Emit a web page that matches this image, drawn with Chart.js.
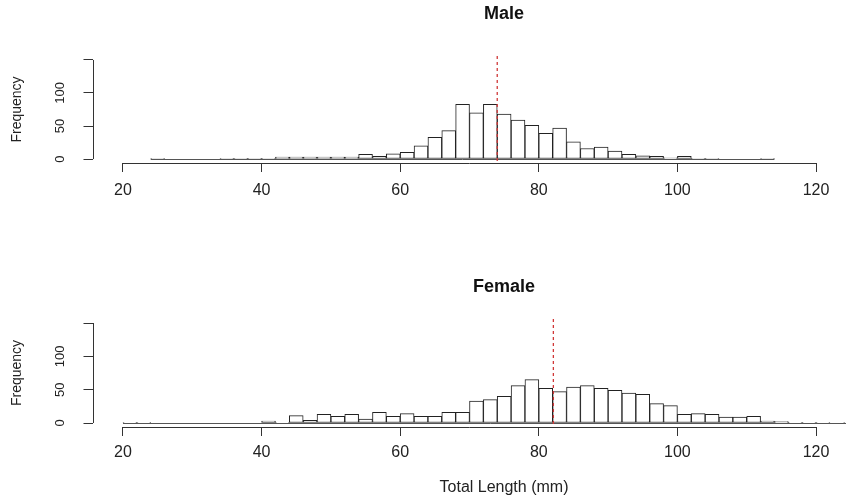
<!DOCTYPE html>
<html>
<head>
<meta charset="utf-8">
<script src="https://cdn.jsdelivr.net/npm/chart.js@4"></script>
<style>
html, body { margin: 0; padding: 0; background: #fff; overflow: hidden; }
#wrap { position: relative; width: 846px; height: 495px; overflow: hidden; }
#male { position: absolute; left: 0; top: 0; }
#female { position: absolute; left: 0; top: 260px; }
</style>
</head>
<body>
<div id="wrap">
<canvas id="male" width="1008" height="240"></canvas>
<canvas id="female" width="1008" height="240"></canvas>
</div>
<script>
// histogram bins (left edge, mm), 2 mm wide
const binWidth = 2;
const binStarts = [20, 22, 24, 26, 28, 30, 32, 34, 36, 38, 40, 42, 44, 46, 48, 50, 52, 54, 56, 58,
    60, 62, 64, 66, 68, 70, 72, 74, 76, 78, 80, 82, 84, 86, 88, 90, 92, 94, 96, 98,
    100, 102, 104, 106, 108, 110, 112, 114, 116, 118, 120, 122, 124];
const maleCounts = [0, 0, 1, 0, 0, 0, 0, 1, 1, 1, 1, 3, 3, 3, 3, 3, 3, 7, 4, 8,
    10, 20, 33, 43, 83, 70, 83, 68, 59, 51, 39, 47, 26, 16, 18, 12, 7, 5, 4, 2,
    4, 1, 1, 0, 0, 0, 1, 0, 0, 0, 0, 0, 0];
const femaleCounts = [1, 1, 0, 0, 0, 0, 0, 0, 0, 0, 3, 1, 11, 4, 13, 10, 13, 6, 16, 10,
    14, 10, 10, 16, 16, 33, 35, 40, 56, 65, 52, 47, 54, 56, 52, 49, 45, 43, 29, 26,
    13, 14, 13, 9, 9, 10, 3, 2, 1, 1, 1, 0, 1];
const maleMean = 74.0;
const femaleMean = 82.1;
const xTicks = [20, 40, 60, 80, 100, 120];
const yTicks = [0, 50, 100, 150];
const yTickLabels = ['0', '50', '100', ''];

Chart.defaults.font.family = "'Liberation Sans', Arial, sans-serif";
Chart.defaults.color = '#222';

// R style axes, empty-bin baseline and the dashed mean line
const rStyle = {
    id: 'rStyle',
    beforeDatasetsDraw(chart) {
        const {ctx, scales: {x, y}} = chart;
        const counts = chart.data.datasets[0].data.map(d => d.y);
        const first = counts.findIndex(c => c > 0);
        const last = counts.length - 1 - counts.slice().reverse().findIndex(c => c > 0);
        const py = Math.round(y.getPixelForValue(0)) + 0.5;
        ctx.save();
        ctx.strokeStyle = '#555';
        ctx.lineWidth = 1;
        ctx.beginPath();
        ctx.moveTo(x.getPixelForValue(binStarts[first]), py);
        ctx.lineTo(x.getPixelForValue(binStarts[last] + binWidth), py);
        ctx.stroke();
        ctx.restore();
    },
    afterDatasetsDraw(chart, args, opts) {
        const {ctx, chartArea, scales: {x}} = chart;
        const px = x.getPixelForValue(opts.mean);
        ctx.save();
        ctx.strokeStyle = '#d03838';
        ctx.lineWidth = 1.3;
        ctx.setLineDash([3, 3]);
        ctx.beginPath();
        ctx.moveTo(px, chartArea.top);
        ctx.lineTo(px, chartArea.bottom);
        ctx.stroke();
        ctx.restore();
    },
    afterDraw(chart) {
        const {ctx, chartArea, scales: {x, y}} = chart;
        ctx.save();
        ctx.strokeStyle = '#333';
        ctx.lineWidth = 1;
        const by = Math.round(chartArea.bottom) + 0.5;
        ctx.beginPath();
        ctx.moveTo(x.getPixelForValue(xTicks[0]), by);
        ctx.lineTo(x.getPixelForValue(xTicks[xTicks.length - 1]), by);
        ctx.stroke();
        const lx = Math.round(chartArea.left) + 0.5;
        ctx.beginPath();
        ctx.moveTo(lx, y.getPixelForValue(yTicks[0]));
        ctx.lineTo(lx, y.getPixelForValue(yTicks[yTicks.length - 1]));
        ctx.stroke();
        ctx.fillStyle = '#222';
        ctx.font = "13px 'Liberation Sans', Arial, sans-serif";
        ctx.textAlign = 'center';
        ctx.textBaseline = 'middle';
        yTicks.forEach((v, i) => {
            ctx.save();
            ctx.translate(60, y.getPixelForValue(v));
            ctx.rotate(-Math.PI / 2);
            ctx.fillText(yTickLabels[i], 0, 0);
            ctx.restore();
        });
        ctx.restore();
    }
};

function makeHist(id, counts, mean, title, layout) {
    const data = {
        datasets: [{
            label: title,
            data: binStarts.map((s, i) => ({x: s + binWidth / 2, y: counts[i]})),
            backgroundColor: '#ffffff',
            borderColor: '#222',
            borderWidth: 1,
            borderSkipped: false,
            barPercentage: 1,
            categoryPercentage: 1
        }]
    };
    const config = {
        type: 'bar',
        data: data,
        plugins: [rStyle],
        options: {
            responsive: false,
            animation: false,
            layout: { padding: 0 },
            plugins: {
                legend: { display: false },
                tooltip: { enabled: false },
                title: {
                    display: true,
                    text: title,
                    color: '#111',
                    font: { size: 18, weight: 'bold' },
                    padding: layout.titlePadding
                },
                subtitle: layout.subtitle,
                rStyle: { mean: mean }
            },
            scales: {
                x: {
                    type: 'linear',
                    min: 15.6,
                    max: 147.7,
                    offset: false,
                    afterBuildTicks: scale => { scale.ticks = xTicks.map(v => ({value: v})); },
                    afterFit: scale => { scale.height = layout.xHeight; },
                    ticks: { font: { size: 16 }, padding: layout.xPad, maxRotation: 0, autoSkip: false },
                    grid: { display: true, offset: false, drawOnChartArea: false, drawTicks: true, tickLength: 9, color: '#333' },
                    border: { display: false }
                },
                y: {
                    min: -6,
                    max: 156,
                    afterBuildTicks: scale => { scale.ticks = yTicks.map(v => ({value: v})); },
                    afterFit: scale => { scale.width = 92.5; },
                    ticks: { display: false },
                    grid: { display: true, drawOnChartArea: false, drawTicks: true, tickLength: 9, color: '#333' },
                    border: { display: false },
                    title: { display: true, text: 'Frequency', font: { size: 14 }, padding: { top: 9, bottom: 0 } }
                }
            }
        }
    };
    return new Chart(document.getElementById(id).getContext('2d'), config);
}

makeHist('male', maleCounts, maleMean, 'Male', {
    titlePadding: { top: 3.2, bottom: 31.2 },
    xHeight: 77,
    xPad: 9.4,
    subtitle: { display: false }
});

makeHist('female', femaleCounts, femaleMean, 'Female', {
    titlePadding: { top: 16.2, bottom: 21.2 },
    xHeight: 36,
    xPad: 7.4,
    subtitle: {
        display: true,
        position: 'bottom',
        text: 'Total Length (mm)',
        color: '#222',
        font: { size: 16 },
        padding: { top: 15.4, bottom: 2.4 }
    }
});
</script>
</body>
</html>
